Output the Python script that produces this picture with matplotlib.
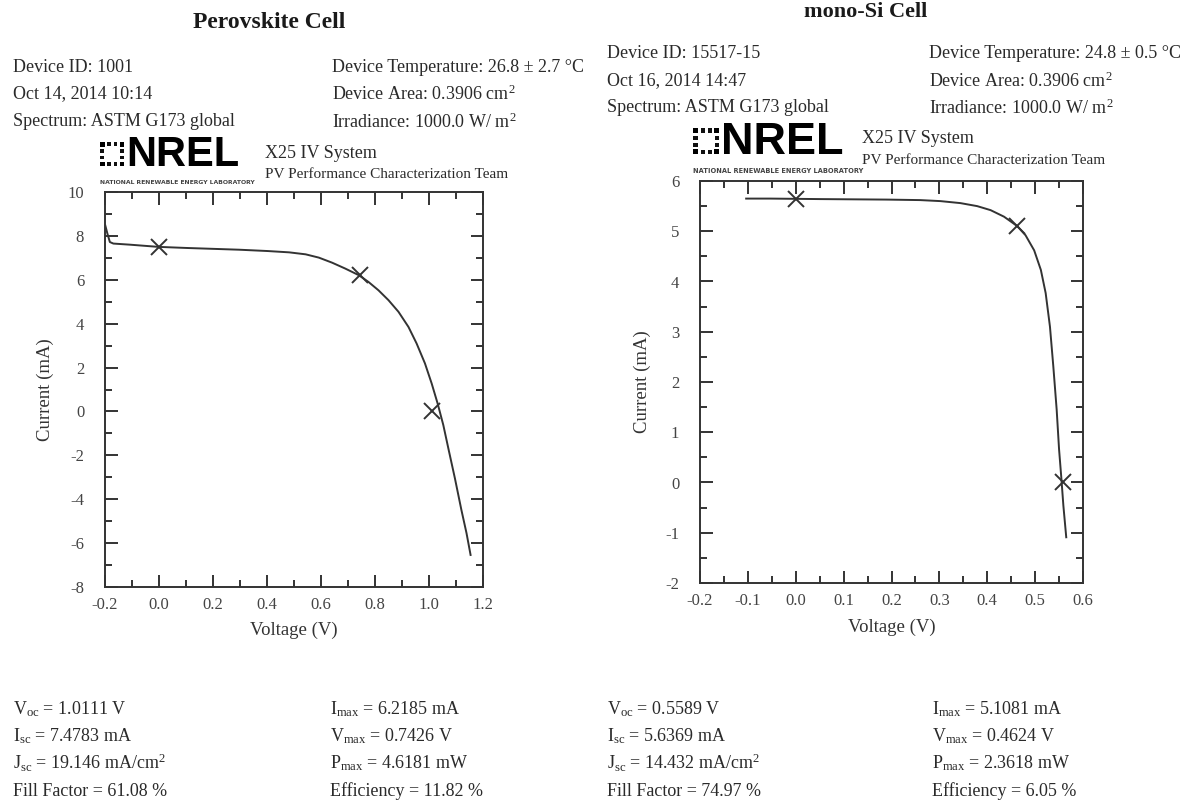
import matplotlib
matplotlib.use("Agg")
import matplotlib.pyplot as plt
from matplotlib.ticker import MultipleLocator, FormatStrFormatter
from matplotlib.patches import Rectangle

# ---------------- data ----------------
perov_v = [-0.199, -0.191, -0.182, -0.169, -0.108, -0.003, 0.101, 0.199, 0.297, 0.402,
           0.482, 0.543, 0.592, 0.641, 0.690, 0.740, 0.776, 0.813, 0.850, 0.887,
           0.924, 0.954, 0.985, 1.010, 1.032, 1.053, 1.073, 1.096, 1.120, 1.139, 1.154]
perov_i = [8.48, 8.10, 7.72, 7.65, 7.60, 7.50, 7.45, 7.41, 7.37, 7.31,
           7.25, 7.16, 7.01, 6.78, 6.51, 6.21, 5.90, 5.52, 5.07, 4.54,
           3.85, 3.10, 2.19, 1.27, 0.36, -0.62, -1.76, -3.05, -4.49, -5.55, -6.54]
perov_marks_v = [0.0, 0.7426, 1.0111]
perov_marks_i = [7.4783, 6.2185, 0.0]

si_v = [-0.1036, -0.053, 0.0, 0.051, 0.121, 0.191, 0.260, 0.302, 0.344, 0.379,
        0.407, 0.435, 0.463, 0.480, 0.498, 0.512, 0.522, 0.531, 0.538, 0.545,
        0.550, 0.555, 0.559, 0.565]
si_i = [5.65, 5.65, 5.645, 5.64, 5.635, 5.63, 5.62, 5.60, 5.56, 5.50,
        5.42, 5.29, 5.10, 4.92, 4.62, 4.23, 3.77, 3.10, 2.31, 1.45,
        0.66, 0.06, -0.46, -1.09]
si_marks_v = [0.0, 0.4624, 0.5589]
si_marks_i = [5.6369, 5.1081, 0.0]

perov_info_left = ["Device ID: 1001", "Oct 14, 2014 10:14", "Spectrum: ASTM G173 global"]
perov_info_right = ["Device Temperature: 26.8 \u00b1 2.7 \u00b0C",
                    "Device Area: 0.3906 cm$^{2}$", "Irradiance: 1000.0 W/ m$^{2}$"]
si_info_left = ["Device ID: 15517-15", "Oct 16, 2014 14:47", "Spectrum: ASTM G173 global"]
si_info_right = ["Device Temperature: 24.8 \u00b1 0.5 \u00b0C",
                 "Device Area: 0.3906 cm$^{2}$", "Irradiance: 1000.0 W/ m$^{2}$"]

perov_stats_a = ["V$_{\\mathrm{oc}}$ = 1.0111 V", "I$_{\\mathrm{sc}}$ = 7.4783 mA",
                 "J$_{\\mathrm{sc}}$ = 19.146 mA/cm$^{2}$", "Fill Factor = 61.08 %"]
perov_stats_b = ["I$_{\\mathrm{max}}$ = 6.2185 mA", "V$_{\\mathrm{max}}$ = 0.7426 V",
                 "P$_{\\mathrm{max}}$ = 4.6181 mW", "Efficiency = 11.82 %"]
si_stats_a = ["V$_{\\mathrm{oc}}$ = 0.5589 V", "I$_{\\mathrm{sc}}$ = 5.6369 mA",
              "J$_{\\mathrm{sc}}$ = 14.432 mA/cm$^{2}$", "Fill Factor = 74.97 %"]
si_stats_b = ["I$_{\\mathrm{max}}$ = 5.1081 mA", "V$_{\\mathrm{max}}$ = 0.4624 V",
              "P$_{\\mathrm{max}}$ = 2.3618 mW", "Efficiency = 6.05 %"]

# ---------------- style ----------------
plt.rcParams['font.family'] = ['Liberation Serif', 'DejaVu Serif']
plt.rcParams['mathtext.fontset'] = 'custom'
plt.rcParams['mathtext.rm'] = 'Liberation Serif'
plt.rcParams['mathtext.it'] = 'Liberation Serif:italic'
plt.rcParams['mathtext.bf'] = 'Liberation Serif:bold'

W, H = 1198, 805
fig = plt.figure(figsize=(W / 100, H / 100), dpi=100)
fig.patch.set_facecolor('white')
TXT = '#2a2a2a'
LN = '#333333'
INFO_FS = 13


def fx(px):
    return px / W


def fy(py):
    return 1 - py / H


def make_axes(x0, x1, y0, y1):
    return fig.add_axes([fx(x0), fy(y1), fx(x1 - x0), (y1 - y0) / H])


def style_axes(ax, xlim, ylim, xmaj, xmin, ymaj, ymin, xfmt, yfmt):
    ax.set_xlim(*xlim)
    ax.set_ylim(*ylim)
    ax.xaxis.set_major_locator(MultipleLocator(xmaj))
    ax.xaxis.set_minor_locator(MultipleLocator(xmin))
    ax.yaxis.set_major_locator(MultipleLocator(ymaj))
    ax.yaxis.set_minor_locator(MultipleLocator(ymin))
    ax.xaxis.set_major_formatter(FormatStrFormatter(xfmt))
    ax.yaxis.set_major_formatter(FormatStrFormatter(yfmt))
    ax.tick_params(which='both', direction='in', top=True, right=True,
                   color=LN, labelcolor='#444444', labelsize=12, width=1.4)
    ax.tick_params(which='major', length=9)
    ax.tick_params(which='minor', length=5)
    ax.tick_params(axis='x', which='major', pad=7)
    ax.tick_params(axis='y', which='major', pad=15)
    for s in ax.spines.values():
        s.set_color(LN)
        s.set_linewidth(1.4)
    ax.set_xlabel("Voltage (V)", fontsize=13.5, color='#333333')
    ax.set_ylabel("Current (mA)", fontsize=13.5, color='#333333')


def draw_logo(x0, y0, scale=1.0):
    # NREL logo mark: ring of small squares
    step = 6.6 * scale
    s = 4.6 * scale
    cells = [(0, 0, 's'), (1, 0, 'c'), (2, 0, 'c'), (3, 0, 's'),
             (0, 1, 'c'), (3, 1, 'c'), (0, 2, 'c'), (3, 2, 'c'),
             (0, 3, 's'), (1, 3, 'c'), (2, 3, 'c'), (3, 3, 's')]
    for cx, cy, kind in cells:
        px = x0 + cx * step
        py = y0 + cy * step
        if kind == 's':
            fig.patches.append(Rectangle((fx(px), fy(py + s)), fx(s), s / H,
                                         transform=fig.transFigure, color='black', lw=0))
        else:
            fig.patches.append(Rectangle((fx(px + 0.4 * scale), fy(py + s - 0.4 * scale)),
                                         fx(s - 0.8 * scale), (s - 0.8 * scale) / H,
                                         transform=fig.transFigure, color='#111111', lw=0))
    fig.text(fx(x0 + 26 * scale), fy(y0 + 13 * scale), "NREL", fontsize=30 * scale,
             family='Liberation Sans', weight='bold', va='center', ha='left', color='black')
    fig.text(fx(x0), fy(y0 + 40 * scale), "NATIONAL RENEWABLE ENERGY LABORATORY",
             fontsize=4.4 * scale, family='DejaVu Sans', weight='bold', va='center',
             ha='left', color='#444444')


def panel(title, tx, ty, tfs, info_l, info_r, ilx, irx, iys, logo_xy, logo_scale, sys_xy):
    fig.text(fx(tx), fy(ty), title, fontsize=tfs, weight='bold', ha='center', va='center', color='#1a1a1a')
    for yy, s in zip(iys, info_l):
        fig.text(fx(ilx), fy(yy), s, fontsize=INFO_FS, ha='left', va='center', color=TXT)
    for yy, s in zip(iys, info_r):
        fig.text(fx(irx), fy(yy), s, fontsize=INFO_FS, ha='left', va='center', color=TXT)
    draw_logo(logo_xy[0], logo_xy[1], logo_scale)
    fig.text(fx(sys_xy[0]), fy(sys_xy[1]), "X25 IV System", fontsize=13, ha='left', va='center', color=TXT)
    fig.text(fx(sys_xy[0]), fy(sys_xy[1] + 22), "PV Performance Characterization Team",
             fontsize=11, ha='left', va='center', color=TXT)


# ---------------- left panel: Perovskite ----------------
panel("Perovskite Cell", 269, 22, 17, perov_info_left, perov_info_right, 13, 332, [67, 94, 122],
      (100, 142), 1.0, (265, 153))
ax1 = make_axes(105, 483, 192, 587)
style_axes(ax1, (-0.2, 1.2), (-8, 10), 0.2, 0.1, 2, 1, '%.1f', '%d')
ax1.plot(perov_v, perov_i, color=LN, lw=1.4)
ax1.plot(perov_marks_v, perov_marks_i, ls='none', marker='x', ms=11, mew=1.4, color=LN)
ax1.xaxis.set_label_coords(0.5, (587 - 630) / (587 - 192))
ax1.xaxis.label.set_va('center')
ax1.yaxis.set_label_coords((45 - 105) / (483 - 105), 0.5)
ax1.yaxis.label.set_va('center')

# ---------------- right panel: mono-Si ----------------
panel("mono-Si Cell", 866, 12, 16, si_info_left, si_info_right, 607, 929, [53, 81, 108],
      (693, 128), 1.08, (862, 138))
ax2 = make_axes(700, 1083, 181, 583)
style_axes(ax2, (-0.2, 0.6), (-2, 6), 0.1, 0.05, 1, 0.5, '%.1f', '%d')
ax2.plot(si_v, si_i, color=LN, lw=1.4)
ax2.plot(si_marks_v, si_marks_i, ls='none', marker='x', ms=11, mew=1.4, color=LN)
ax2.xaxis.set_label_coords(0.5, (583 - 627) / (583 - 181))
ax2.xaxis.label.set_va('center')
ax2.yaxis.set_label_coords((642 - 700) / (1083 - 700), 0.5)
ax2.yaxis.label.set_va('center')

# ---------------- bottom statistics ----------------
stat_y = [709, 736, 763, 791]
for col_x, lines in [(13, perov_stats_a), (330, perov_stats_b), (607, si_stats_a), (932, si_stats_b)]:
    for yy, s in zip(stat_y, lines):
        fig.text(fx(col_x), fy(yy), s, fontsize=INFO_FS, ha='left', va='center', color=TXT)

fig.savefig("out.png", dpi=100, facecolor='white')
